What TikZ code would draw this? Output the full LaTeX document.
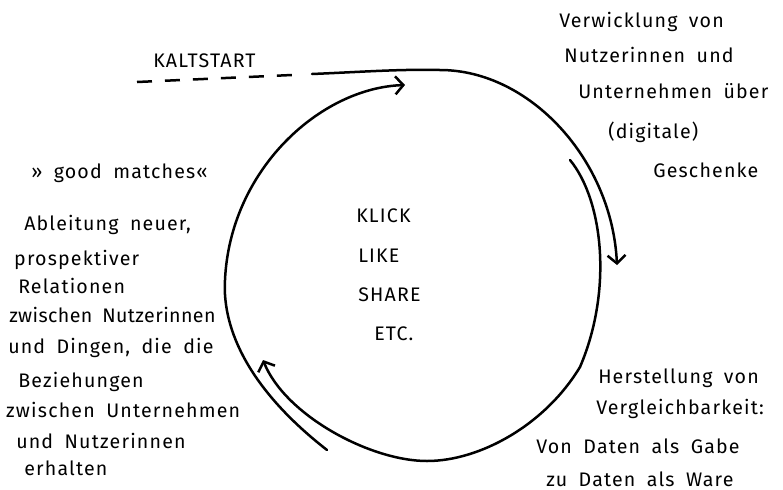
\documentclass[tikz,border=0pt]{standalone}
\usepackage{fontspec}
\setmainfont{Fira Sans}[LetterSpace=6, WordSpace=1.8]
\usetikzlibrary{arrows.meta}

\begin{document}
\begin{tikzpicture}[x=0.5pt, y=-0.5pt, line width=1.25pt,
    loop/.style={-{Straight Barb[length=4pt,width=9pt]}, line cap=round},
    txt/.style={anchor=base west, inner sep=0pt, font=\fontsize{9.8}{12}\selectfont}]
    \useasboundingbox (0,0) rectangle (783,489);

    \coordinate (kalt) at (137,82);
    \coordinate (kaltend) at (292,75);
    \coordinate (topstart) at (312,74);
    \coordinate (topmid) at (440,70);
    \coordinate (righttip) at (617,265);
    \coordinate (rightstart) at (570,160);
    \coordinate (rightmid) at (580,367);
    \coordinate (bottom) at (427,461);
    \coordinate (lefttip) at (263,360);
    \coordinate (leftstart) at (327,450);
    \coordinate (leftmid) at (225,280);
    \coordinate (toptip) at (405,85);

    \draw[dash pattern=on 7.5pt off 6.5pt] (kalt) -- (kaltend);
    \draw[loop] (topstart) .. controls (360,72) and (400,69) .. (topmid)
        .. controls (530,70) and (612,160) .. (righttip);
    \draw[loop] (rightstart) .. controls (603,200) and (613,290) .. (rightmid)
        .. controls (545,425) and (480,461) .. (bottom)
        .. controls (370,461) and (285,415) .. (lefttip);
    \draw[loop] (leftstart) .. controls (250,390) and (222,330) .. (leftmid)
        .. controls (230,170) and (320,88) .. (toptip);

    \node[txt] (kaltstart) at (152,67) {KALTSTART};

    \node[txt] (klick) at (355,222) {KLICK};
    \node[txt] (like) at (357,262) {LIKE};
    \node[txt] (share) at (357,301) {SHARE};
    \node[txt] (etc) at (373,340) {ETC.};

    \node[txt] (gift1) at (558,27) {Verwicklung von};
    \node[txt] (gift2) at (563,62) {Nutzerinnen und};
    \node[txt] (gift3) at (577,98) {Unternehmen über};
    \node[txt] (gift4) at (607,138) {(digitale)};
    \node[txt] (gift5) at (652,177) {Geschenke};

    \node[txt] (ware1) at (597,383) {Herstellung von};
    \node[txt] (ware2) at (595,414) {Vergleichbarkeit:};
    \node[txt] (ware3) at (535,453) {Von Daten als Gabe};
    \node[txt] (ware4) at (545,486) {zu Daten als Ware};

    \node[txt] (match) at (30,178) {» good matches«};
    \node[txt] (rel1) at (23,230) {Ableitung neuer,};
    \node[txt] (rel2) at (13,265) {prospektiver};
    \node[txt] (rel3) at (17,293) {Relationen};
    \node[txt, font=\fontsize{9.8}{12}\selectfont\addfontfeature{LetterSpace=2}]
        (rel4) at (8,322) {zwischen Nutzerinnen};
    \node[txt] (rel5) at (7,353) {und Dingen, die die};
    \node[txt] (rel6) at (17,387) {Beziehungen};
    \node[txt] (rel7) at (5,417) {zwischen Unternehmen};
    \node[txt] (rel8) at (15,448) {und Nutzerinnen};
    \node[txt] (rel9) at (23,475) {erhalten};
\end{tikzpicture}
\end{document}
